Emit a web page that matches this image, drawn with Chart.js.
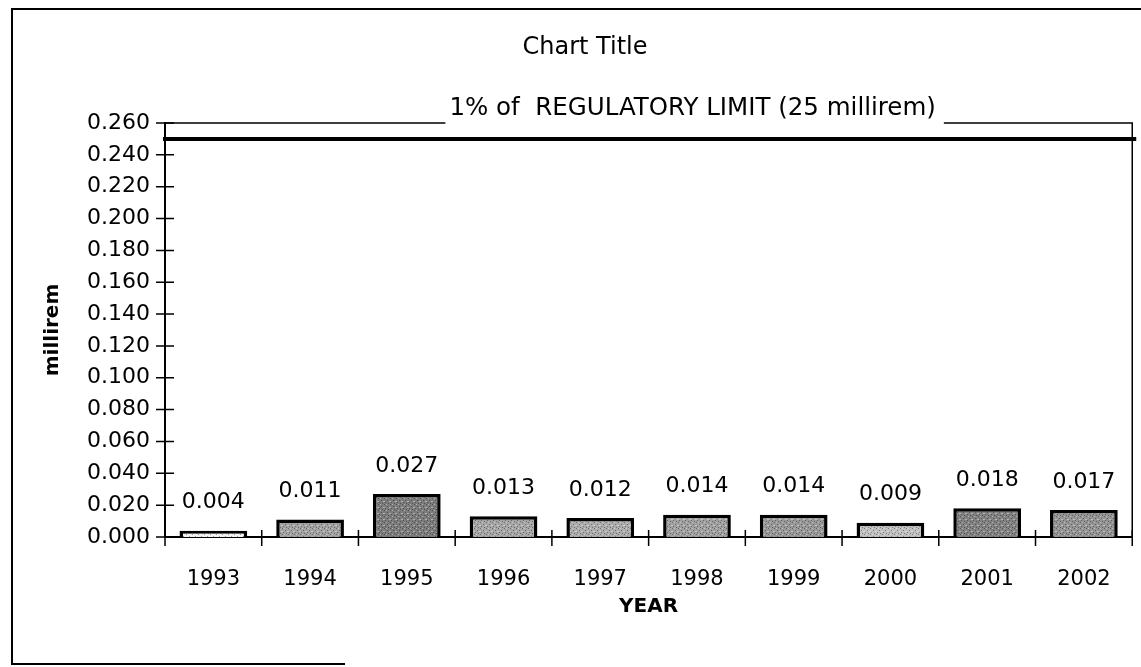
<!DOCTYPE html>
<html>
<head>
<meta charset="utf-8">
<script src="https://cdn.jsdelivr.net/npm/chart.js@4.4.0/dist/chart.umd.min.js"></script>
<style>
  html, body { margin: 0; padding: 0; background: #fff; }
  #miGrafico { display: block; }
</style>
</head>
<body>
<canvas id="miGrafico" width="1141" height="667"></canvas>
<script>
// data
const years = ['1993', '1994', '1995', '1996', '1997', '1998', '1999', '2000', '2001', '2002'];
const dose = [0.004, 0.011, 0.027, 0.013, 0.012, 0.014, 0.014, 0.009, 0.018, 0.017];
const limitValue = 0.25;
const limitLabel = '1% of  REGULATORY LIMIT (25 millirem)';
const chartTitle = 'Chart Title';
const yMin = 0, yMax = 0.26, yStep = 0.02;

// greys of the scanned bar fills
const barGreys = ['#f2f2f2', '#a2a2a2', '#7c7c7c', '#a6a6a6', '#acacac', '#a0a0a0', '#989898', '#c0c0c0', '#828282', '#949494'];

const FONT = '"DejaVu Sans", sans-serif';

function makePattern(grey) {
    let c = document.createElement('canvas');
    c.width = 6; c.height = 6;
    let g = c.getContext('2d');
    g.fillStyle = grey;
    g.fillRect(0, 0, 6, 6);
    g.fillStyle = 'rgba(0,0,0,0.35)';
    g.fillRect(0, 0, 1, 1); g.fillRect(3, 2, 1, 1); g.fillRect(1, 4, 1, 1); g.fillRect(4, 5, 1, 1);
    g.fillStyle = 'rgba(255,255,255,0.4)';
    g.fillRect(2, 0, 1, 1); g.fillRect(5, 3, 1, 1); g.fillRect(0, 3, 1, 1);
    return g.createPattern(c, 'repeat');
}

const extras = {
    id: 'extras',
    beforeDraw(chart) {
        const ctx = chart.ctx;
        ctx.save();
        ctx.fillStyle = '#fff';
        ctx.fillRect(0, 0, chart.width, chart.height);
        // outer frame of the scan
        ctx.strokeStyle = '#000';
        ctx.lineWidth = 2;
        ctx.beginPath();
        ctx.moveTo(chart.width, 9);
        ctx.lineTo(12, 9);
        ctx.lineTo(12, 664);
        ctx.lineTo(345, 664);
        ctx.stroke();
        // title
        ctx.fillStyle = '#000';
        ctx.font = '24px ' + FONT;
        ctx.textAlign = 'center';
        ctx.textBaseline = 'middle';
        ctx.fillText(chartTitle, 585, 48);
        ctx.restore();
    },
    afterDatasetsDraw(chart) {
        const ctx = chart.ctx;
        const area = chart.chartArea;
        const ys = chart.scales.y;
        const xs = chart.scales.x;
        ctx.save();
        ctx.strokeStyle = '#000';

        // top border with gap for the limit label
        ctx.font = '24.5px ' + FONT;
        const tw = ctx.measureText(limitLabel).width;
        const cx = (area.left + area.right) / 2 + 44;
        const yTop = ys.getPixelForValue(yMax);
        ctx.lineWidth = 1.5;
        ctx.beginPath();
        ctx.moveTo(area.left, yTop);
        ctx.lineTo(cx - tw / 2 - 4, yTop);
        ctx.moveTo(cx + tw / 2 + 8, yTop);
        ctx.lineTo(area.right, yTop);
        ctx.lineTo(area.right, area.bottom);
        ctx.stroke();
        ctx.fillStyle = '#000';
        ctx.textAlign = 'center';
        ctx.textBaseline = 'middle';
        ctx.fillText(limitLabel, cx, yTop - 14);

        // limit line
        const yl = ys.getPixelForValue(limitValue);
        ctx.lineWidth = 4;
        ctx.beginPath();
        ctx.moveTo(area.left - 2, yl);
        ctx.lineTo(area.right + 4, yl);
        ctx.stroke();

        // crossing tick marks
        ctx.lineWidth = 1.5;
        ctx.beginPath();
        for (let v = yMin; v <= yMax + 1e-9; v += yStep) {
            const p = ys.getPixelForValue(v);
            ctx.moveTo(area.left - 9, p);
            ctx.lineTo(area.left + 9, p);
        }
        const half = (xs.getPixelForValue(1) - xs.getPixelForValue(0)) / 2;
        for (let i = 0; i <= years.length; i++) {
            const p = i < years.length ? xs.getPixelForValue(i) - half : area.right;
            ctx.moveTo(p, area.bottom - 7);
            ctx.lineTo(p, area.bottom + 9);
        }
        ctx.stroke();

        // value labels
        ctx.font = '22px ' + FONT;
        const meta = chart.getDatasetMeta(0);
        meta.data.forEach((bar, i) => {
            ctx.fillText(dose[i].toFixed(3), bar.x, bar.y - 28);
        });
        ctx.restore();
    }
};

const grafico = new Chart(document.getElementById('miGrafico'), {
    type: 'bar',
    data: {
        labels: years,
        datasets: [{
            label: 'millirem',
            data: dose,
            backgroundColor: barGreys.map(makePattern),
            borderColor: '#000',
            borderWidth: 3.5,
            categoryPercentage: 1,
            barPercentage: 0.7
        }]
    },
    options: {
        responsive: false,
        devicePixelRatio: 1,
        animation: false,
        layout: { padding: { left: 0, right: 8, top: 123, bottom: 0 } },
        plugins: {
            legend: { display: false },
            tooltip: { enabled: false },
            title: { display: false }
        },
        scales: {
            x: {
                offset: true,
                grid: { display: false, drawTicks: false },
                border: { display: true, color: '#000', width: 2 },
                ticks: { color: '#000', font: { family: FONT, size: 21 }, padding: 30, maxRotation: 0 },
                title: {
                    display: true,
                    text: 'YEAR',
                    color: '#000',
                    font: { family: FONT, size: 20, weight: 'bold' },
                    padding: { top: 4, bottom: 48 }
                },
                afterFit(scale) { scale.height = 130; }
            },
            y: {
                min: yMin,
                max: yMax,
                grid: { display: false, drawTicks: false },
                border: { display: true, color: '#000', width: 2 },
                ticks: {
                    stepSize: yStep,
                    color: '#000',
                    font: { family: FONT, size: 22 },
                    padding: 15,
                    callback: (v) => v.toFixed(3)
                },
                title: {
                    display: true,
                    text: 'millirem',
                    color: '#000',
                    font: { family: FONT, size: 20, weight: 'bold' },
                    padding: { top: 41, bottom: 0 }
                },
                afterFit(scale) { scale.width = 165; }
            }
        }
    },
    plugins: [extras]
});
</script>
</body>
</html>
